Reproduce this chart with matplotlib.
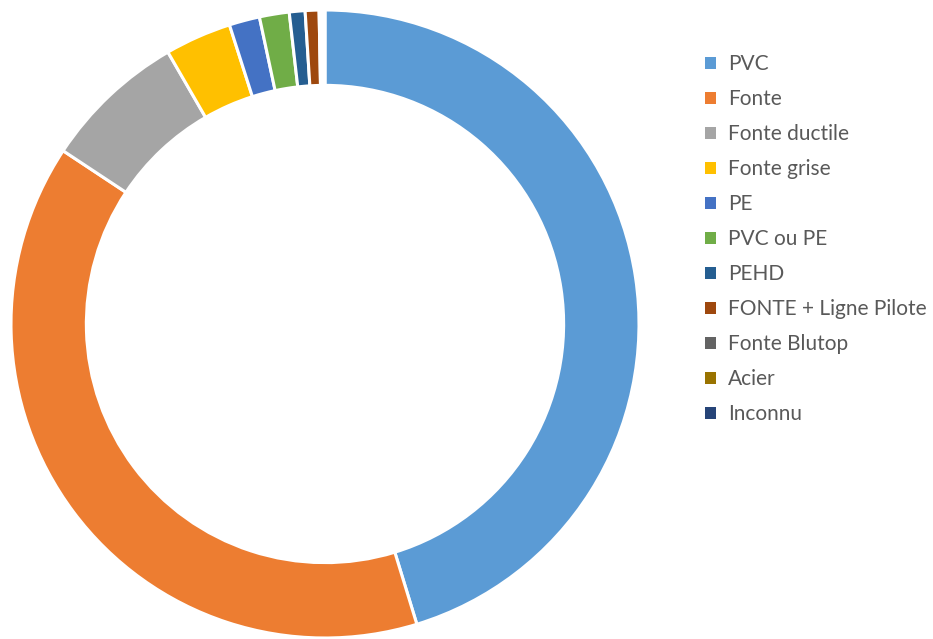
import matplotlib.pyplot as plt
from matplotlib.patches import Patch

labels = ["PVC", "Fonte", "Fonte ductile", "Fonte grise", "PE", "PVC ou PE", "PEHD",
          "FONTE + Ligne Pilote", "Fonte Blutop", "Acier", "Inconnu"]
values = [45.28, 39.03, 7.36, 3.42, 1.57, 1.53, 0.81, 0.71, 0.1, 0.1, 0.1]
colors = ["#5B9BD5", "#ED7D31", "#A5A5A5", "#FFC000", "#4472C4", "#70AD47", "#255E91",
          "#9E480E", "#636363", "#997300", "#264478"]

fig = plt.figure(figsize=(9.33, 6.39), dpi=100)
ax = fig.add_axes([11 / 933, 1 / 639, 628 / 933, 628 / 639])
ax.pie(values, colors=colors, startangle=90, counterclock=False, radius=1,
       wedgeprops=dict(width=0.24, edgecolor="white", linewidth=2.2))
ax.set_xlim(-1, 1)
ax.set_ylim(-1, 1)
ax.set_aspect("equal")
ax.axis("off")

handles = [Patch(facecolor=c, edgecolor="none") for c in colors]
leg = fig.legend(handles, labels, loc="upper left", bbox_to_anchor=(697 / 933, 1 - 46 / 639),
                 frameon=False, handlelength=0.5, handleheight=0.5,
                 handletextpad=0.6, labelspacing=0.72, borderaxespad=0,
                 prop={"family": ["Lato", "DejaVu Sans"], "size": 15})
for t in leg.get_texts():
    t.set_color("#595959")

fig.savefig("out.png", dpi=100)
